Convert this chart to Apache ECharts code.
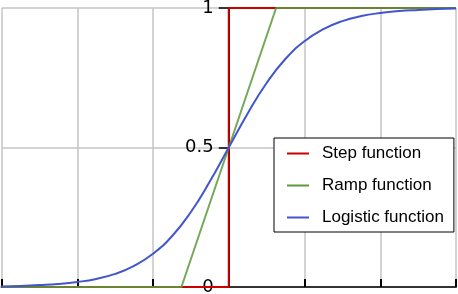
<!DOCTYPE html>
<html><head><meta charset="utf-8">
<script src="https://cdn.jsdelivr.net/npm/echarts@6/dist/echarts.min.js"></script>
<style>html,body{margin:0;padding:0;background:#fff}#c{width:458px;height:294px}</style>
</head><body><div id="c"></div>
<script>
const seriesNames = ['Step function', 'Ramp function', 'Logistic function'];
const stepX = [-6, 0, 0, 6];
const stepY = [0, 0, 1, 1];
const rampX = [-6, -1.25, 1.25, 6];
const rampY = [0, 0, 1, 1];
const logisticX = [-6, -5.5, -5, -4.5, -4, -3.5, -3, -2.5, -2, -1.5, -1, -0.5, 0, 0.5, 1, 1.5, 2, 2.5, 3, 3.5, 4, 4.5, 5, 5.5, 6];
const logisticY = [0.002, 0.004, 0.007, 0.011, 0.018, 0.029, 0.047, 0.076, 0.119, 0.182, 0.269, 0.378, 0.5, 0.622, 0.731, 0.818, 0.881, 0.924, 0.953, 0.971, 0.982, 0.989, 0.993, 0.996, 0.998];
const yTicks = [0, 0.5, 1];

const zip = (xs, ys) => xs.map((x, i) => [x, ys[i]]);
const W = 458, gridL = 1.5, gridR = 2;
const chart = echarts.init(document.getElementById('c'), null, {renderer: 'canvas'});
chart.setOption({
  animation: false,
  backgroundColor: '#fff',
  grid: {left: gridL, right: gridR, top: 8, bottom: 7, containLabel: false, outerBoundsMode: 'none'},
  xAxis: {
    type: 'value', min: -6, max: 6, interval: 2,
    axisLine: {show: true, onZero: false, lineStyle: {color: '#333', width: 2}},
    axisTick: {show: true, inside: true, length: 8, lineStyle: {color: '#000', width: 2}},
    axisLabel: {show: false},
    splitLine: {show: true, lineStyle: {color: '#c4c4c4', width: 1.5}}
  },
  yAxis: {
    type: 'value', min: yTicks[0], max: yTicks[2], interval: yTicks[1] - yTicks[0],
    position: 'left', offset: -(W - gridL - gridR) / 2,
    axisLine: {show: true, onZero: false, lineStyle: {color: '#000', width: 1}},
    axisTick: {show: true, length: 10, lineStyle: {color: '#000', width: 1.5}},
    axisLabel: {show: true, margin: 15, color: '#000', fontSize: 18, fontFamily: 'DejaVu Sans'},
    splitLine: {show: true, lineStyle: {color: '#c4c4c4', width: 1.5}}
  },
  legend: {
    orient: 'vertical', left: 274, top: 138,
    padding: [7, 10, 6, 13], itemGap: 15,
    itemWidth: 22, itemHeight: 2, icon: 'rect',
    borderColor: '#000', borderWidth: 1, backgroundColor: '#fff',
    textStyle: {fontSize: 17, fontFamily: 'Liberation Sans', color: '#000', padding: [0, 0, 0, 8]},
    data: seriesNames
  },
  series: [
    {name: seriesNames[0], type: 'line', data: zip(stepX, stepY), symbol: 'none', color: '#cc0000',
     lineStyle: {width: 2, color: '#cc0000'}, z: 2},
    {name: seriesNames[1], type: 'line', data: zip(rampX, rampY), symbol: 'none', color: '#5a9a3a',
     lineStyle: {width: 2, color: '#5a9a3a', opacity: 0.85}, z: 3},
    {name: seriesNames[2], type: 'line', data: zip(logisticX, logisticY), symbol: 'none', smooth: true, color: '#4256cc',
     lineStyle: {width: 2, color: '#4256cc'}, z: 4}
  ]
});
</script></body></html>
